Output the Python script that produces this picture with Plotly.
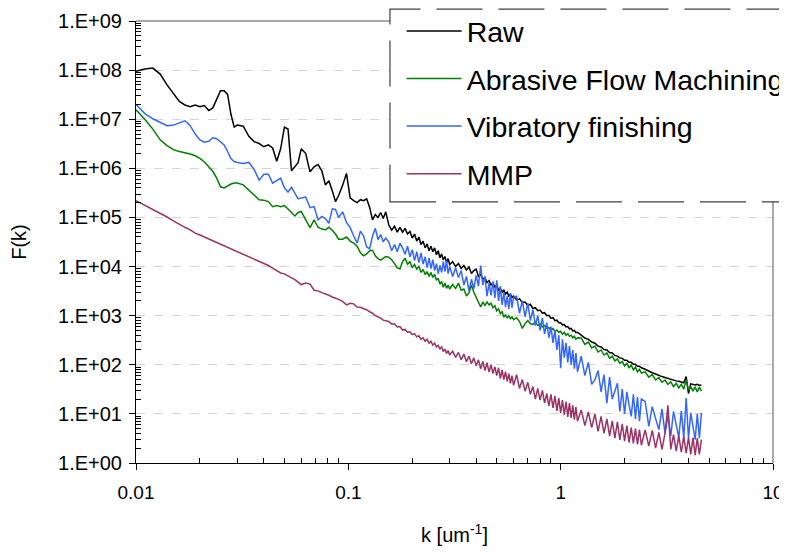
import plotly.graph_objects as go

# wavenumber grid, um^-1
K = [
    0.010, 0.011, 0.012, 0.013, 0.014, 0.015, 0.016, 0.017, 0.018, 0.019, 0.020,
    0.021, 0.022, 0.023, 0.024, 0.025, 0.026, 0.027, 0.028, 0.029, 0.030,
    0.032, 0.034, 0.036, 0.038, 0.040, 0.042, 0.044, 0.046, 0.048, 0.050,
    0.052, 0.054, 0.056, 0.058, 0.060,
    0.063, 0.066, 0.069, 0.072, 0.075, 0.078, 0.081, 0.084, 0.087, 0.090,
    0.094, 0.098, 0.102, 0.106, 0.110, 0.114, 0.118, 0.122, 0.126, 0.130,
    0.134, 0.138, 0.142, 0.146, 0.150,
    0.155, 0.160, 0.165, 0.170, 0.175, 0.180, 0.185, 0.190, 0.195, 0.200,
    0.205, 0.210, 0.215, 0.220, 0.225, 0.230, 0.235, 0.240, 0.245, 0.250,
    0.255, 0.260, 0.265, 0.270, 0.275, 0.280, 0.285, 0.290, 0.295, 0.300,
    0.31, 0.32, 0.33, 0.34, 0.35, 0.36, 0.37, 0.38, 0.39, 0.40,
    0.41, 0.42, 0.43, 0.44, 0.45, 0.46, 0.47, 0.48, 0.49, 0.50,
    0.51, 0.52, 0.53, 0.54, 0.55, 0.56, 0.57, 0.58, 0.59, 0.60,
    0.62, 0.64, 0.66, 0.68, 0.70, 0.72, 0.74, 0.76, 0.78, 0.80,
    0.82, 0.84, 0.86, 0.88, 0.90, 0.92, 0.94, 0.96, 0.98, 1.00,
    1.02, 1.04, 1.06, 1.08, 1.10, 1.12, 1.14, 1.16, 1.18, 1.20,
    1.25, 1.30, 1.35, 1.40, 1.45, 1.50, 1.55, 1.60, 1.65, 1.70, 1.75, 1.80,
    1.85, 1.90, 1.95, 2.00, 2.05, 2.10, 2.15, 2.20, 2.25, 2.30, 2.35, 2.40,
    2.5, 2.6, 2.7, 2.8, 2.9, 3.0, 3.1, 3.2, 3.3, 3.4, 3.5,
    3.6, 3.7, 3.8, 3.9, 4.0, 4.1, 4.2, 4.3, 4.4, 4.5, 4.6,
]

RAW = [
    9.5e7, 1.05e8, 1.1e8, 8.3e7, 5.0e7, 3.3e7, 2.3e7, 1.95e7, 1.8e7, 1.95e7, 1.8e7,
    1.9e7, 1.5e7, 1.7e7, 2.5e7, 3.8e7, 3.8e7, 3.2e7, 1.26e7, 6.9e6, 7.6e6,
    7.2e6, 4.5e6, 3.5e6, 3.2e6, 2.75e6, 3.0e6, 2.6e6, 1.4e6, 2.5e6, 6.9e6,
    6.3e6, 8.9e5, 1.1e6, 1.3e6, 2.5e6,
    2.0e6, 8.5e5, 1.07e6, 1.2e6, 8.9e5, 4.6e5, 5.6e5, 3.5e5, 2.1e5, 2.8e5,
    4.5e5, 7.9e5, 2.5e5, 2.2e5, 2.0e5, 2.3e5, 2.2e5, 2.4e5, 1.6e5, 8.9e4,
    1.15e5, 1.0e5, 1.26e5, 9.5e4, 1.3e5,
    7.1e4, 5.5e4, 6.6e4, 5.0e4, 6.3e4, 5.0e4, 6.0e4, 4.6e4, 5.2e4, 3.8e4,
    4.6e4, 3.3e4, 4.0e4, 2.8e4, 3.3e4, 2.4e4, 2.9e4, 2.1e4, 2.6e4, 2.0e4,
    2.4e4, 1.74e4, 2.1e4, 1.5e4, 1.8e4, 1.38e4, 1.6e4, 1.2e4, 1.45e4, 1.1e4,
    1.26e4, 1.0e4, 1.15e4, 9.1e3, 1.05e4, 8.5e3, 9.8e3, 7.2e3, 8.3e3, 8.9e3,
    6.3e3, 6.9e3, 5.5e3, 6.0e3, 4.7e3, 5.2e3, 4.2e3, 4.6e3, 3.8e3, 4.2e3,
    3.3e3, 3.6e3, 3.0e3, 3.3e3, 2.75e3, 3.0e3, 2.5e3, 2.75e3, 2.35e3, 2.5e3,
    2.1e3, 2.2e3, 1.86e3, 1.9e3, 1.6e3, 1.7e3, 1.4e3, 1.45e3, 1.26e3, 1.3e3,
    1.12e3, 1.15e3, 1.0e3, 1.02e3, 8.9e2, 9.1e2, 7.9e2, 8.1e2, 7.2e2, 7.2e2,
    6.5e2, 6.6e2, 5.9e2, 6.0e2, 5.4e2, 5.5e2, 4.9e2, 5.0e2, 4.5e2, 4.6e2,
    4.0e2, 3.5e2, 3.3e2, 2.9e2, 2.75e2, 2.4e2, 2.3e2, 2.04e2, 2.0e2, 1.78e2, 1.74e2, 1.55e2,
    1.5e2, 1.38e2, 1.35e2, 1.23e2, 1.23e2, 1.12e2, 1.12e2, 1.02e2, 1.02e2, 9.3e1, 9.3e1, 8.7e1,
    8.1e1, 7.4e1, 6.9e1, 6.5e1, 6.0e1, 5.75e1, 5.5e1, 5.25e1, 5.0e1, 4.8e1, 4.7e1,
    4.6e1, 4.4e1, 4.3e1, 5.75e1, 2.6e1, 4.1e1, 4.0e1, 3.9e1, 4.0e1, 3.8e1, 3.9e1,
]

AFM = [
    1.55e7, 1.0e7, 6.3e6, 3.8e6, 2.9e6, 2.4e6, 2.2e6, 2.1e6, 1.95e6, 1.8e6, 1.6e6,
    1.35e6, 1.1e6, 8.7e5, 6.3e5, 4.2e5, 4.0e5, 4.4e5, 4.8e5, 5.0e5, 5.0e5,
    4.6e5, 3.6e5, 2.9e5, 2.3e5, 2.25e5, 2.1e5, 1.66e5, 1.74e5, 1.66e5, 1.74e5,
    1.48e5, 1.26e5, 1.07e5, 1.26e5, 1.32e5,
    8.9e4, 6.2e4, 8.9e4, 6.3e4, 5.8e4, 5.6e4, 6.3e4, 5.5e4, 4.6e4, 3.6e4,
    3.6e4, 4.0e4, 3.3e4, 3.0e4, 2.6e4, 1.9e4, 1.66e4, 1.8e4, 2.1e4, 2.15e4,
    1.66e4, 1.45e4, 1.35e4, 1.5e4, 1.6e4,
    1.55e4, 1.38e4, 1.15e4, 9.5e3, 8.9e3, 1.26e4, 1.48e4, 1.12e4, 1.26e4, 9.5e3,
    1.1e4, 8.9e3, 1.0e4, 7.6e3, 8.7e3, 6.9e3, 7.9e3, 6.3e3, 7.6e3, 6.0e3,
    6.9e3, 5.25e3, 5.75e3, 4.4e3, 5.0e3, 3.8e3, 4.6e3, 3.6e3, 4.2e3, 3.5e3,
    4.3e3, 3.6e3, 4.6e3, 3.3e3, 3.5e3, 2.5e3, 2.9e3, 4.2e3, 3.0e3, 2.3e3,
    1.9e3, 1.5e3, 1.9e3, 1.6e3, 1.9e3, 1.66e3, 1.8e3, 1.45e3, 1.6e3, 1.26e3,
    1.38e3, 1.1e3, 1.2e3, 9.3e2, 1.05e3, 8.9e2, 1.0e3, 8.7e2, 9.5e2, 8.3e2,
    9.1e2, 7.6e2, 5.5e2, 6.9e2, 7.9e2, 6.9e2, 6.6e2, 7.4e2, 6.3e2, 6.9e2,
    5.9e2, 6.3e2, 5.5e2, 5.75e2, 5.0e2, 5.5e2, 4.8e2, 5.1e2, 4.6e2, 4.8e2,
    4.2e2, 4.6e2, 4.0e2, 4.3e2, 3.8e2, 4.0e2, 3.55e2, 3.8e2, 3.3e2, 3.55e2,
    3.5e2, 2.6e2, 2.9e2, 2.2e2, 2.4e2, 1.82e2, 2.0e2, 1.58e2, 1.74e2, 1.35e2, 1.5e2, 1.2e2,
    1.32e2, 1.07e2, 1.17e2, 9.5e1, 1.07e2, 8.7e1, 9.8e1, 7.9e1, 8.9e1, 7.2e1, 8.1e1, 6.8e1,
    7.2e1, 5.6e1, 6.3e1, 4.9e1, 5.5e1, 4.4e1, 4.9e1, 4.0e1, 4.5e1, 3.6e1, 4.2e1,
    3.4e1, 4.0e1, 3.2e1, 5.0e1, 3.0e1, 3.6e1, 2.9e1, 3.55e1, 2.8e1, 3.5e1, 2.9e1,
]

VIB = [
    2.0e7, 1.3e7, 1.02e7, 8.7e6, 7.4e6, 7.6e6, 8.5e6, 9.3e6, 7.4e6, 5.0e6, 3.8e6,
    3.4e6, 3.55e6, 4.2e6, 4.0e6, 3.5e6, 3.0e6, 2.2e6, 1.58e6, 1.38e6, 1.32e6,
    1.26e6, 1.32e6, 9.5e5, 5.75e5, 7.6e5, 7.6e5, 5.0e5, 5.75e5, 6.3e5, 4.0e5,
    3.3e5, 4.1e5, 3.2e5, 2.4e5, 2.5e5,
    2.6e5, 1.58e5, 1.66e5, 8.9e4, 1.05e5, 9.5e4, 7.6e4, 1.5e5, 1.45e5, 1.0e5,
    1.3e5, 7.9e4, 6.2e4, 4.2e4, 3.0e4, 5.25e4, 4.2e4, 2.5e4, 2.3e4, 4.2e4,
    6.0e4, 3.55e4, 4.5e4, 3.2e4, 3.8e4,
    3.2e4, 2.1e4, 2.8e4, 2.0e4, 3.0e4, 2.4e4, 1.78e4, 2.6e4, 1.58e4, 2.2e4,
    1.32e4, 2.0e4, 1.2e4, 1.9e4, 1.12e4, 1.58e4, 9.5e3, 1.5e4, 9.1e3, 1.38e4,
    8.3e3, 1.15e4, 7.2e3, 1.05e4, 7.6e3, 1.26e4, 7.9e3, 1.32e4, 7.2e3, 1.0e4,
    6.3e3, 9.5e3, 6.0e3, 8.3e3, 4.2e3, 6.3e3, 3.2e3, 5.5e3, 3.55e3, 6.6e3,
    4.0e3, 1.05e4, 4.2e3, 6.3e3, 2.5e3, 4.6e3, 2.6e3, 5.0e3, 2.3e3, 5.25e3,
    2.0e3, 4.0e3, 1.66e3, 3.0e3, 1.5e3, 2.5e3, 1.38e3, 2.9e3, 1.45e3, 2.4e3,
    2.5e3, 1.12e3, 2.0e3, 9.5e2, 1.8e3, 7.9e2, 1.32e3, 6.3e2, 1.0e3, 5.0e2,
    8.9e2, 4.2e2, 7.2e2, 3.55e2, 6.0e2, 2.8e2, 5.0e2, 2.0e2, 4.0e2, 8.5e1,
    3.3e2, 1.4e2, 2.8e2, 1.12e2, 2.4e2, 1.0e2, 2.0e2, 8.3e1, 1.74e2, 7.2e1,
    1.5e2, 6.0e1, 1.12e2, 4.0e1, 5.0e1, 7.6e1, 2.8e1, 6.3e1, 1.66e1, 5.6e1, 2.0e1, 3.0e1,
    4.2e1, 1.12e1, 3.2e1, 1.0e1, 2.8e1, 1.5e1, 8.9, 2.5e1, 7.9, 2.2e1, 7.1, 2.0e1,
    1.8e1, 5.6, 1.4e1, 8.0, 4.8, 1.26e1, 4.0, 9.0, 3.55, 1.12e1, 6.0,
    3.3, 1.15e1, 3.2, 2.1e1, 3.2, 1.05e1, 5.0, 3.0, 1.0e1, 3.2, 1.05e1,
]

MMP = [
    2.2e5, 1.78e5, 1.48e5, 1.23e5, 1.02e5, 8.5e4, 7.2e4, 6.3e4, 5.6e4, 4.8e4, 4.4e4,
    4.0e4, 3.7e4, 3.4e4, 3.2e4, 2.9e4, 2.7e4, 2.5e4, 2.35e4, 2.15e4, 2.0e4,
    1.78e4, 1.58e4, 1.41e4, 1.29e4, 1.15e4, 1.05e4, 9.3e3, 8.1e3, 7.4e3, 7.1e3,
    6.5e3, 5.9e3, 5.4e3, 4.8e3, 4.3e3,
    4.6e3, 4.4e3, 3.3e3, 3.2e3, 2.95e3, 2.8e3, 2.6e3, 2.4e3, 2.3e3, 2.15e3,
    1.95e3, 1.66e3, 1.78e3, 1.74e3, 1.5e3, 1.48e3, 1.38e3, 1.32e3, 1.2e3, 1.12e3,
    1.0e3, 9.5e2, 8.9e2, 8.1e2, 7.9e2,
    7.6e2, 6.8e2, 6.8e2, 5.9e2, 6.0e2, 5.1e2, 5.25e2, 4.6e2, 4.7e2, 4.1e2,
    4.3e2, 3.7e2, 3.9e2, 3.3e2, 3.55e2, 3.0e2, 3.3e2, 2.75e2, 3.0e2, 2.5e2,
    2.75e2, 2.3e2, 2.5e2, 2.1e2, 2.3e2, 1.86e2, 2.1e2, 1.7e2, 1.95e2, 1.58e2,
    1.9e2, 1.41e2, 1.78e2, 1.26e2, 1.66e2, 1.15e2, 1.5e2, 1.05e2, 1.38e2, 9.5e1,
    1.26e2, 8.3e1, 1.17e2, 7.6e1, 1.1e2, 7.1e1, 1.0e2, 6.6e1, 9.1e1, 6.0e1,
    8.7e1, 5.25e1, 7.9e1, 5.0e1, 7.2e1, 4.6e1, 6.6e1, 4.2e1, 6.0e1, 3.8e1,
    6.3e1, 3.3e1, 5.0e1, 2.9e1, 4.4e1, 2.5e1, 3.6e1, 2.0e1, 3.3e1, 1.9e1,
    3.0e1, 1.66e1, 2.6e1, 1.45e1, 2.5e1, 1.32e1, 2.3e1, 1.15e1, 2.1e1, 1.05e1,
    1.9e1, 9.5, 1.78e1, 8.7, 1.66e1, 8.3, 1.5e1, 7.6, 1.38e1, 7.1,
    1.2e1, 5.75, 1.1e1, 5.25, 1.0e1, 4.4, 8.9, 4.0, 7.9, 3.55, 7.2, 3.2,
    6.9, 2.95, 6.3, 2.8, 5.75, 2.6, 5.25, 2.5, 5.0, 2.4, 4.8, 2.3,
    4.7, 2.2, 4.6, 2.0, 4.2, 1.9, 4.0, 1.5e1, 1.9, 3.8, 1.74,
    3.55, 1.66, 3.5, 1.58, 3.3, 1.5, 3.3, 1.45, 3.2, 1.5, 3.0,
]

NAMES = ["Raw", "Abrasive Flow Machining", "Vibratory finishing", "MMP"]
COLORS = ["#000000", "#008000", "#3366FF", "#993366"]

X_TICKS = [0.01, 0.1, 1, 10]
X_TICK_TEXT = ["0.01", "0.1", "1", "10"]
Y_TICKS = [10 ** e for e in range(10)]
Y_TICK_TEXT = ["1.E+%02d" % e for e in range(10)]

for s in (RAW, AFM, VIB, MMP):
    assert len(s) == len(K), len(s)

FONT = "Liberation Sans, Arial, sans-serif"

fig = go.Figure()
for i, (name, vals, col) in enumerate(zip(NAMES, [RAW, AFM, VIB, MMP], COLORS)):
    fig.add_trace(go.Scatter(
        x=K, y=vals, name=name, mode="lines",
        line=dict(color=col, width=1.5),
        legendgroup=str(i),
    ))

x_minor = [m * 10.0 ** e for e in (-2, -1, 0) for m in range(2, 10)]
y_minor = [m * 10.0 ** e for e in range(0, 9) for m in range(2, 10)]

fig.update_xaxes(
    type="log", range=[-2, 1], automargin=False,
    tickvals=X_TICKS, ticktext=X_TICK_TEXT,
    ticks="outside", ticklen=6, tickcolor="black", ticklabelstandoff=6,
    minor=dict(tickvals=x_minor, ticks="inside", ticklen=5, tickcolor="black", showgrid=False),
    showline=True, linecolor="black", linewidth=1, showgrid=False, zeroline=False,
    tickfont=dict(family=FONT, size=19, color="black"),
    title=dict(text="k [um<sup>-1</sup>]", font=dict(family=FONT, size=20, color="black"), standoff=26),
)
fig.update_yaxes(
    type="log", range=[0, 9], automargin=False,
    tickvals=Y_TICKS, ticktext=Y_TICK_TEXT,
    ticks="outside", ticklen=6, tickcolor="black", ticklabelstandoff=3,
    minor=dict(tickvals=y_minor, ticks="inside", ticklen=5, tickcolor="black", showgrid=False),
    showline=True, linecolor="black", linewidth=1,
    showgrid=True, gridcolor="#d4d4d4", griddash="dash", gridwidth=1, zeroline=False,
    tickfont=dict(family=FONT, size=20, color="black"),
    title=dict(text="F(k)", font=dict(family=FONT, size=20, color="black"), standoff=29),
)

# gray plot-area border (top, right) and the dashed legend frame
fig.add_shape(type="line", xref="paper", yref="paper", x0=0, x1=1, y0=1, y1=1,
              line=dict(color="#8c8c8c", width=1.5), layer="above")
fig.add_shape(type="line", xref="paper", yref="paper", x0=1, x1=1, y0=0, y1=1,
              line=dict(color="#8c8c8c", width=1.5), layer="above")
fig.add_shape(type="rect", xref="paper", yref="paper", x0=0.3987, x1=1.05, y0=0.591, y1=1.027,
              line=dict(color="#404040", width=1.2, dash="46px,16px"), fillcolor="white", layer="above")

# the page adds an 8px body margin, so the figure is 8px smaller than the window
fig.update_layout(
    width=779, height=547,
    margin=dict(l=128, r=14, t=13, b=92, autoexpand=False),
    paper_bgcolor="white", plot_bgcolor="white",
    font=dict(family=FONT, color="black"),
    showlegend=True,
    legend=dict(
        x=0.417, xanchor="left",
        y=1.034, yanchor="top",
        font=dict(family=FONT, size=28.5, color="black"),
        bgcolor="rgba(0,0,0,0)", borderwidth=0,
        tracegroupgap=7.5, itemwidth=55,
    ),
)

fig.write_html("out.html")
